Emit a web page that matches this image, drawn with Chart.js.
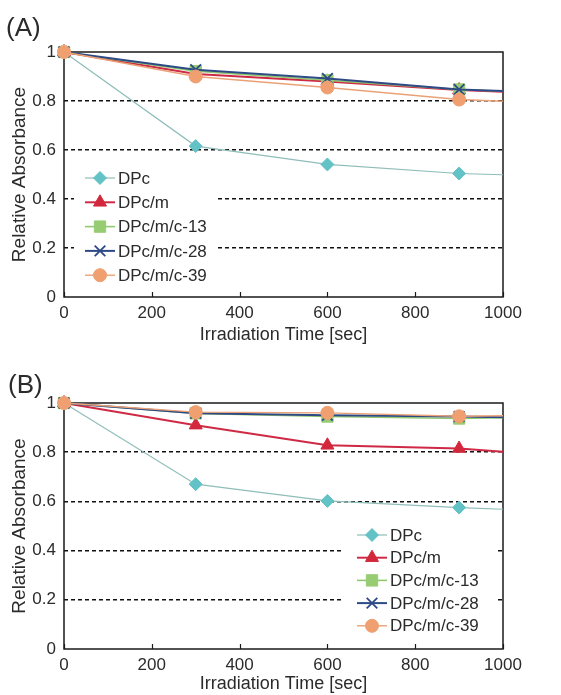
<!DOCTYPE html>
<html>
<head>
<meta charset="utf-8">
<script src="https://cdn.jsdelivr.net/npm/chart.js@4.4.1/dist/chart.umd.min.js"></script>
<style>
  html, body { margin: 0; padding: 0; background: #fff; }
  canvas { display: block; }
</style>
</head>
<body>
<canvas id="chartA" width="561" height="348"></canvas>
<canvas id="chartB" width="561" height="347"></canvas>
<script>
(function () {
    "use strict";

    // Irradiation times (sec)
    const times = [0, 300, 600, 900, 1000];
    const seriesNames = ["DPc", "DPc/m", "DPc/m/c-13", "DPc/m/c-28", "DPc/m/c-39"];
    const xTicks = [0, 200, 400, 600, 800, 1000];
    const yTicks = [0, 0.2, 0.4, 0.6, 0.8, 1];

    // Panel (A) relative absorbance
    const dpcA = [1, 0.616, 0.541, 0.504, 0.499];
    const dpcMA = [1, 0.91, 0.88, 0.845, 0.838];
    const dpcM13A = [1, 0.922, 0.885, 0.847, 0.84];
    const dpcM28A = [1, 0.928, 0.892, 0.847, 0.841];
    const dpcM39A = [1, 0.9, 0.855, 0.806, 0.799];

    // Panel (B) relative absorbance
    const dpcB = [1, 0.67, 0.602, 0.575, 0.568];
    const dpcMB = [1, 0.91, 0.828, 0.815, 0.802];
    const dpcM13B = [1, 0.958, 0.945, 0.937, 0.94];
    const dpcM28B = [1, 0.958, 0.95, 0.945, 0.942];
    const dpcM39B = [1, 0.963, 0.96, 0.946, 0.948];

    const fontFamily = "'Liberation Sans', Arial, sans-serif";
    const textColor = "#2b2b2b";

    const styles = [
        { line: "#8fbdb9", fill: "#62c2c6", shape: "rectRot", r: 6.5, w: 1.2, order: 5 },
        { line: "#cf2a45", fill: "#d3283c", shape: "triangle", r: 7.5, w: 2, order: 4 },
        { line: "#92c96e", fill: "#97cc72", shape: "rect", r: 8, w: 1.6, order: 3 },
        { line: "#2e4a86", fill: "#2e4a86", shape: "crossRot", r: 7.5, w: 2, order: 2 },
        { line: "#eba176", fill: "#f0a070", shape: "circle", r: 6.5, w: 1.4, order: 1 },
    ];

    function buildDatasets(series) {
        return series.map((values, i) => {
            const st = styles[i];
            return {
                label: seriesNames[i],
                data: times.map((t, j) => ({ x: t, y: values[j] })),
                borderColor: st.line,
                borderWidth: st.w,
                pointStyle: st.shape,
                pointRadius: times.map((t) => (t === 1000 ? 0 : st.r)),
                pointBackgroundColor: st.fill,
                pointBorderColor: st.fill,
                pointBorderWidth: st.shape === "crossRot" ? 1.8 : 1,
                tension: 0,
                clip: false,
                order: st.order,
            };
        });
    }

    // Frame round the plot area, inner tick marks and the panel letter
    const framePlugin = {
        id: "plotFrame",
        beforeDatasetsDraw(chart) {
            const a = chart.chartArea;
            const ctx = chart.ctx;
            const xs = chart.scales.x;
            ctx.save();
            ctx.strokeStyle = "#1a1a1a";
            ctx.lineWidth = 1.5;
            ctx.strokeRect(a.left, a.top, a.right - a.left, a.bottom - a.top);
            ctx.lineWidth = 1.2;
            ctx.beginPath();
            xs.ticks.forEach((t) => {
                const px = Math.round(xs.getPixelForValue(t.value)) + 0.5;
                ctx.moveTo(px, a.bottom);
                ctx.lineTo(px, a.bottom - 5);
            });
            ctx.stroke();
            ctx.restore();
        },
        afterDraw(chart, args, opts) {
            const ctx = chart.ctx;
            ctx.save();
            ctx.fillStyle = textColor;
            ctx.font = "26px " + fontFamily;
            ctx.textBaseline = "alphabetic";
            ctx.fillText(opts.label, opts.x, opts.y);
            ctx.restore();
        },
    };

    // Series key with line sample and marker
    const keyPlugin = {
        id: "seriesKey",
        afterDatasetsDraw(chart, args, opts) {
            const ctx = chart.ctx;
            ctx.save();
            ctx.fillStyle = "#fff";
            ctx.fillRect(opts.box[0], opts.box[1], opts.box[2], opts.box[3]);
            chart.data.datasets.forEach((ds, i) => {
                const st = styles[i];
                const y = opts.y + i * opts.gap;
                ctx.strokeStyle = ds.borderColor;
                ctx.lineWidth = ds.borderWidth;
                ctx.beginPath();
                ctx.moveTo(opts.x, y);
                ctx.lineTo(opts.x + 30, y);
                ctx.stroke();
                ctx.fillStyle = ds.pointBackgroundColor;
                ctx.strokeStyle = ds.pointBorderColor;
                ctx.lineWidth = ds.pointBorderWidth;
                Chart.helpers.drawPoint(ctx, {
                    pointStyle: ds.pointStyle,
                    radius: st.r,
                    borderWidth: ds.pointBorderWidth,
                    rotation: 0,
                }, opts.x + 15, y);
                ctx.fillStyle = textColor;
                ctx.font = "17px " + fontFamily;
                ctx.textBaseline = "middle";
                ctx.textAlign = "left";
                ctx.fillText(ds.label, opts.x + 33, y + 1);
            });
            ctx.restore();
        },
    };

    function makeChart(id, series, panel) {
        const ctx = document.getElementById(id).getContext("2d");
        return new Chart(ctx, {
            type: "line",
            data: { datasets: buildDatasets(series) },
            options: {
                responsive: false,
                animation: false,
                devicePixelRatio: 1,
                layout: {
                    padding: { top: panel.top, right: 58, bottom: panel.bottom, left: 0 },
                },
                plugins: {
                    legend: { display: false },
                    tooltip: { enabled: false },
                    plotFrame: panel.label,
                    seriesKey: panel.key,
                },
                scales: {
                    x: {
                        type: "linear",
                        min: xTicks[0],
                        max: xTicks[xTicks.length - 1],
                        afterBuildTicks: (scale) => {
                            scale.ticks = xTicks.map((v) => ({ value: v }));
                        },
                        ticks: {
                            color: textColor,
                            font: { size: 17, family: fontFamily },
                            padding: 6,
                            maxRotation: 0,
                            callback: (v) => String(v),
                        },
                        grid: { display: false, drawTicks: false },
                        border: { display: false },
                        title: {
                            display: true,
                            text: "Irradiation Time [sec]",
                            color: textColor,
                            font: { size: 18, family: fontFamily },
                            padding: 0,
                        },
                        afterFit: (scale) => {
                            scale.height = panel.axisHeight;
                        },
                    },
                    y: {
                        min: 0,
                        max: 1,
                        afterBuildTicks: (scale) => {
                            scale.ticks = yTicks.map((v) => ({ value: v }));
                        },
                        ticks: {
                            color: textColor,
                            font: { size: 17, family: fontFamily },
                            padding: 8,
                            callback: (v) => String(v),
                        },
                        grid: {
                            color: (c) =>
                                c.tick && c.tick.value > 0 && c.tick.value < 1 ? "#111" : "rgba(0,0,0,0)",
                            lineWidth: 1.4,
                            drawTicks: false,
                        },
                        border: { display: false, dash: [4, 3] },
                        title: {
                            display: true,
                            text: "Relative Absorbance",
                            color: textColor,
                            font: { size: 19, family: fontFamily },
                            padding: { top: 8, bottom: 0 },
                        },
                        afterFit: (scale) => {
                            scale.width = 64;
                        },
                    },
                },
            },
            plugins: [framePlugin, keyPlugin],
        });
    }

    makeChart("chartA", [dpcA, dpcMA, dpcM13A, dpcM28A, dpcM39A], {
        top: 52,
        bottom: 2,
        axisHeight: 49,
        label: { label: "(A)", x: 6, y: 36 },
        key: { x: 85, y: 178, gap: 24.3, box: [74, 164, 142, 124] },
    });

    makeChart("chartB", [dpcB, dpcMB, dpcM13B, dpcM28B, dpcM39B], {
        top: 55,
        bottom: 0,
        axisHeight: 46,
        label: { label: "(B)", x: 8, y: 45 },
        key: { x: 357, y: 187, gap: 22.7, box: [344, 174, 151, 118] },
    });
})();
</script>
</body>
</html>
